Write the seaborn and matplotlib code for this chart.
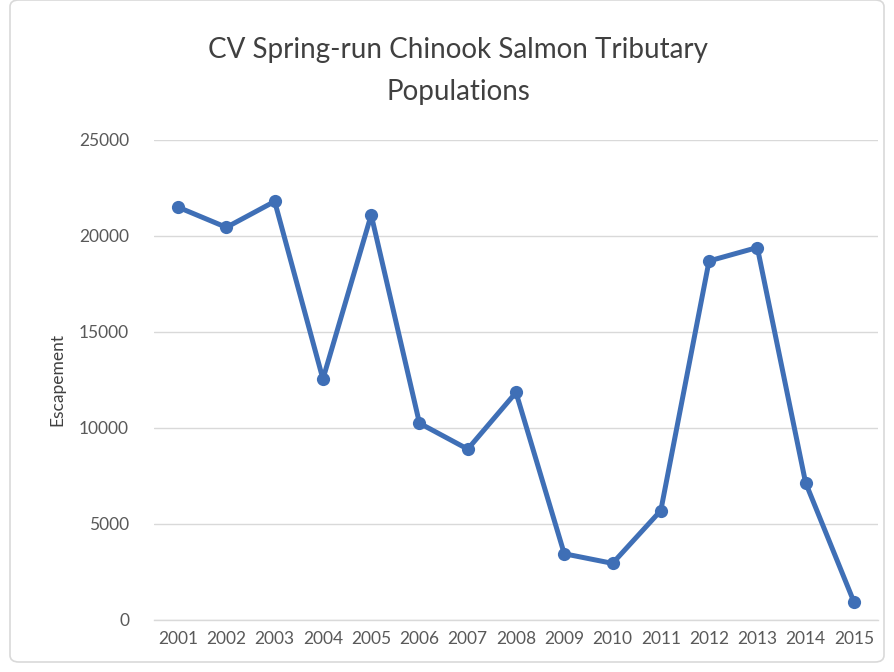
import matplotlib
matplotlib.use("Agg")
import matplotlib.pyplot as plt
import seaborn as sns
import pandas as pd
from matplotlib.patches import FancyBboxPatch

years = ["2001", "2002", "2003", "2004", "2005", "2006", "2007", "2008",
         "2009", "2010", "2011", "2012", "2013", "2014", "2015"]
escapement = [21500, 20450, 21800, 12550, 21100, 10250, 8900, 11850,
              3450, 2950, 5700, 18700, 19400, 7150, 950]
yticks = [0, 5000, 10000, 15000, 20000, 25000]
title = "CV Spring-run Chinook Salmon Tributary\nPopulations"
ylabel = "Escapement"

df = pd.DataFrame({"Year": years, "Escapement": escapement})

sns.set_theme(style="white")
plt.rcParams["font.family"] = ["Lato", "DejaVu Sans"]

W, H = 894, 672
fig = plt.figure(figsize=(W / 100, H / 100), dpi=100)
ax = fig.add_axes([154 / W, 1 - 620 / H, (878 - 154) / W, (620 - 140) / H])

sns.lineplot(data=df, x="Year", y="Escapement", ax=ax, color="#3F6FB6",
             linewidth=3.6, marker="o", markersize=9.5, markeredgewidth=0,
             sort=False)

ax.set_xlim(-0.5, len(years) - 0.5)
ax.set_ylim(0, 25000)
ax.set_yticks(yticks)
ax.set_yticklabels([str(v) for v in yticks])
ax.yaxis.grid(True, color="#D9D9D9", linewidth=1)
ax.set_axisbelow(True)
for s in ["top", "right", "left"]:
    ax.spines[s].set_visible(False)
ax.spines["bottom"].set_color("#D9D9D9")
ax.spines["bottom"].set_linewidth(1)
ax.tick_params(axis="both", length=0, labelsize=12.5, colors="#595959")
ax.tick_params(axis="y", pad=18)
ax.tick_params(axis="x", pad=8)
ax.set_xlabel("")
ax.set_ylabel(ylabel, fontsize=12.5, color="#404040", labelpad=10)

fig.text(458 / W, 1 - 71 / H, title, ha="center", va="center",
         fontsize=20, color="#404040", linespacing=1.75)

border = FancyBboxPatch((10 / W, 10 / H), (W - 20) / W, (H - 10) / H,
                        boxstyle="round,pad=0,rounding_size=0.01",
                        transform=fig.transFigure, fill=False,
                        edgecolor="#D9D9D9", linewidth=1.2, zorder=-1)
fig.patches.append(border)

fig.savefig("out.png", dpi=100)
